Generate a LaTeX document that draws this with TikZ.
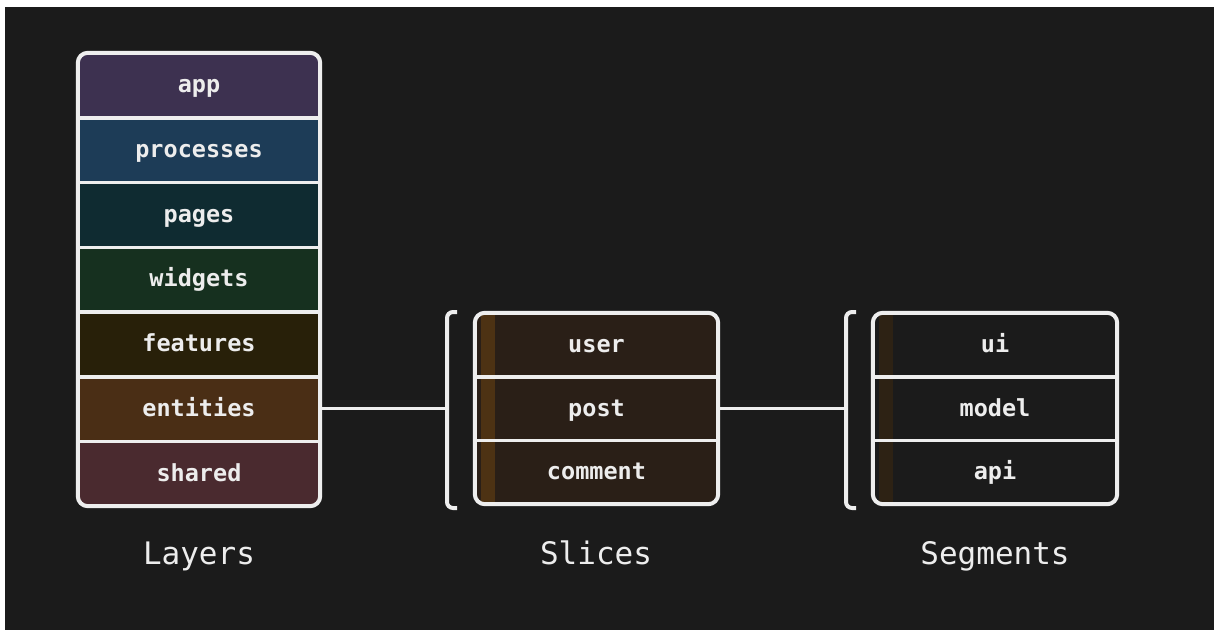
\documentclass[tikz,border=0pt]{standalone}
\usepackage{fontspec}
\setmonofont{DejaVu Sans Mono}
\usepackage{xcolor}
\usepackage{tikz}
\usetikzlibrary{positioning}

\definecolor{bg}{HTML}{1B1B1B}
\definecolor{edge}{HTML}{EEEEEE}
\definecolor{txt}{HTML}{EDEDED}
\definecolor{cApp}{HTML}{3D3150}
\definecolor{cProc}{HTML}{1D3C57}
\definecolor{cPages}{HTML}{0F2B31}
\definecolor{cWidg}{HTML}{16301F}
\definecolor{cFeat}{HTML}{282009}
\definecolor{cEnt}{HTML}{4A2E15}
\definecolor{cShared}{HTML}{4A2A2F}
\definecolor{cSlice}{HTML}{2A1F17}
\definecolor{cSliceBar}{HTML}{4D3213}
\definecolor{cSegBar}{HTML}{2D2214}

\begin{document}
\begin{tikzpicture}[
        x=1pt, y=-1pt,
        row/.style={minimum height=64.7pt, inner sep=0pt, text=txt,
            text height=20pt, text depth=5pt,
            font=\fontsize{23.5}{28}\ttfamily\bfseries\selectfont},
        frame/.style={draw=edge, line width=4pt, rounded corners=10pt},
        sep/.style={draw=edge, line width=3.5pt},
        bracket/.style={draw=edge, line width=4pt, rounded corners=6pt},
        link/.style={draw=edge, line width=3pt},
        caption/.style={text=txt, text height=23pt, text depth=7pt,
            font=\fontsize{31}{36}\ttfamily\selectfont}
        ]

        % Background
        \useasboundingbox (0,0) rectangle (1214,630);
        \fill[white] (0,0) rectangle (1214,630);
        \fill[bg] (5,7) rectangle (1214,630);

        % Layers
        \begin{scope}
            \clip[rounded corners=10pt] (78,53) rectangle (320,506);
            \foreach \i/\name/\col in {1/app/cApp, 2/processes/cProc, 3/pages/cPages,
                    4/widgets/cWidg, 5/features/cFeat, 6/entities/cEnt, 7/shared/cShared}
                \node[row, minimum width=242pt, fill=\col] (L\i) at (199,{53+64.71*(\i-0.5)}) {\name};
        \end{scope}
        \foreach \i in {1,...,6}
            \draw[sep] (L\i.south west) -- (L\i.south east);
        \draw[frame] (L1.north west) rectangle (L7.south east);

        % Slices
        \begin{scope}
            \clip[rounded corners=10pt] (475,313) rectangle (718,504);
            \foreach \i/\name in {1/user, 2/post, 3/comment}
                \node[row, minimum width=243pt, minimum height=63.67pt, fill=cSlice] (S\i) at (596.5,{313+63.67*(\i-0.5)}) {\name};
            \fill[cSliceBar] ([xshift=6pt]S1.north west) rectangle ([xshift=20pt]S3.south west);
        \end{scope}
        \foreach \i in {1,2}
            \draw[sep] (S\i.south west) -- (S\i.south east);
        \draw[frame] (S1.north west) rectangle (S3.south east);

        % Segments
        \begin{scope}
            \clip[rounded corners=10pt] (873,313) rectangle (1117,504);
            \foreach \i/\name in {1/ui, 2/model, 3/api}
                \node[row, minimum width=244pt, minimum height=63.67pt, fill=bg] (G\i) at (995,{313+63.67*(\i-0.5)}) {\name};
            \fill[cSegBar] ([xshift=6pt]G1.north west) rectangle ([xshift=20pt]G3.south west);
        \end{scope}
        \foreach \i in {1,2}
            \draw[sep] (G\i.south west) -- (G\i.south east);
        \draw[frame] (G1.north west) rectangle (G3.south east);

        % Brackets
        \draw[bracket] (457,312) -- (447,312) -- (447,508) -- (457,508);
        \draw[bracket] (856,312) -- (846,312) -- (846,508) -- (856,508);
        \coordinate (bS) at (447,410);
        \coordinate (bG) at (846,410);

        % Connections
        \draw[link] (L6.east) -- (L6.east -| bS);
        \draw[link] (S2.east) -- (S2.east -| bG);

        % Captions
        \node[caption] (layersLbl) at (199,556) {Layers};
        \node[caption] (slicesLbl) at (596,556) {Slices};
        \node[caption] (segmentsLbl) at (995,556) {Segments};

    \end{tikzpicture}
\end{document}
